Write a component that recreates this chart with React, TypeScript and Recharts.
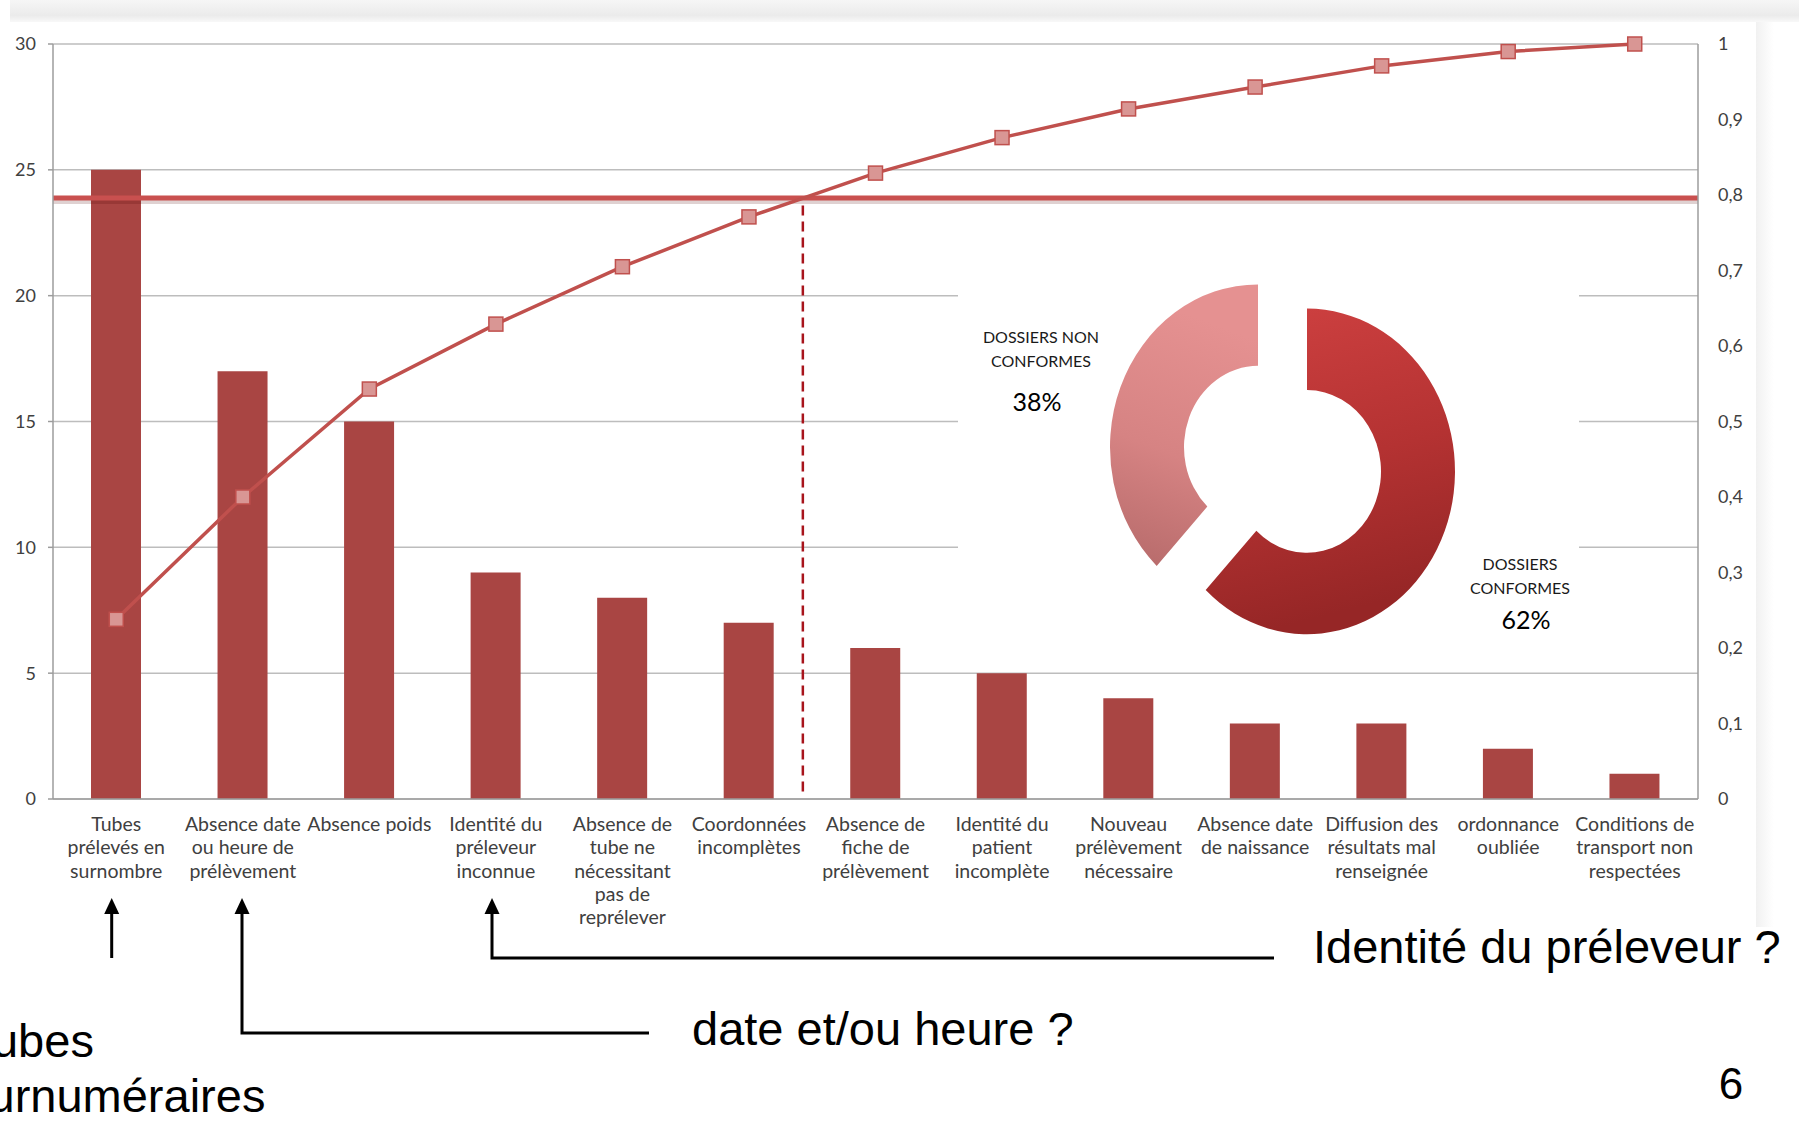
import React from 'react';
import {
  ComposedChart,
  Bar,
  Line,
  XAxis,
  YAxis,
  CartesianGrid,
  ReferenceLine,
  PieChart,
  Pie,
  Cell,
} from 'recharts';

// Pareto of non-conformities (labels are multi-line, split on \n)
const CATEGORIES = [
  'Tubes\nprélevés en\nsurnombre',
  'Absence date\nou heure de\nprélèvement',
  'Absence poids',
  'Identité du\npréleveur\ninconnue',
  'Absence de\ntube ne\nnécessitant\npas de\nreprélever',
  'Coordonnées\nincomplètes',
  'Absence de\nfiche de\nprélèvement',
  'Identité du\npatient\nincomplète',
  'Nouveau\nprélèvement\nnécessaire',
  'Absence date\nde naissance',
  'Diffusion des\nrésultats mal\nrenseignée',
  'ordonnance\noubliée',
  'Conditions de\ntransport non\nrespectées',
];
const COUNTS = [25, 17, 15, 9, 8, 7, 6, 5, 4, 3, 3, 2, 1];
const CUMULATIVE = [0.238, 0.4, 0.543, 0.629, 0.705, 0.771, 0.829, 0.876, 0.914, 0.943, 0.971, 0.99, 1];

const LEFT_TICKS = [0, 5, 10, 15, 20, 25, 30];
const RIGHT_TICKS = [0, 0.1, 0.2, 0.3, 0.4, 0.5, 0.6, 0.7, 0.8, 0.9, 1];

const THRESHOLD = 0.796;
const CUT_POSITION = 5.47; // where the cumulative curve crosses the threshold

const DONUT_NAMES = ['DOSSIERS\nCONFORMES', 'DOSSIERS NON\nCONFORMES'];
const DONUT_VALUES = [62, 38];

const ANNOTATIONS = ['Identité du préleveur ?', 'date et/ou heure ?', 'Tubes\nsurnuméraires'];
const PAGE_NUMBER = '6';

const BAR_COLOR = '#a94543';
const LINE_COLOR = '#c0504d';
const AXIS_COLOR = '#9c9c9c';
const LABEL_FONT = 'Lato, "Open Sans", sans-serif';
const SLIDE_FONT = '"Liberation Sans", Arial, sans-serif';

const chartData = CATEGORIES.map((name, i) => ({
  name,
  count: COUNTS[i],
  cumul: CUMULATIVE[i],
}));

const donutData = DONUT_NAMES.map((name, i) => ({ name, value: DONUT_VALUES[i] }));

function CategoryTick({ x, y, payload }: any) {
  const lines = String(payload.value).split('\n');
  return (
    <g transform={`translate(${x},${y})`}>
      {lines.map((line, i) => (
        <text
          key={i}
          x={0}
          y={32 + i * 23.3}
          textAnchor="middle"
          fill="#404040"
          fontSize={19.5}
          fontFamily={LABEL_FONT}
        >
          {line}
        </text>
      ))}
    </g>
  );
}

function SquareDot(props: any) {
  const { cx, cy, index } = props;
  if (cx == null || cy == null) return null;
  return (
    <rect
      key={`dot-${index}`}
      x={cx - 7}
      y={cy - 7}
      width={14}
      height={14}
      fill="#d99694"
      stroke={LINE_COLOR}
      strokeWidth={1.5}
    />
  );
}

function Arrow({ x, yTip, yEnd, xEnd }: { x: number; yTip: number; yEnd: number; xEnd?: number }) {
  const pts =
    xEnd != null ? `${x},${yTip + 12} ${x},${yEnd} ${xEnd},${yEnd}` : `${x},${yTip + 12} ${x},${yEnd}`;
  return (
    <g>
      <polyline points={pts} fill="none" stroke="#000" strokeWidth={3} />
      <polygon points={`${x},${yTip} ${x - 7.5},${yTip + 16} ${x + 7.5},${yTip + 16}`} fill="#000" />
    </g>
  );
}

export default function App() {
  const [conf, nonConf] = donutData;
  const tubes = ANNOTATIONS[2].split('\n');

  return (
    <div
      style={{
        position: 'absolute',
        left: 0,
        top: 0,
        width: 1799,
        height: 1123,
        overflow: 'hidden',
        background: '#fff',
      }}
    >
      {/* frame shadow of the pasted picture */}
      <div
        style={{
          position: 'absolute',
          left: 10,
          top: 0,
          width: 1789,
          height: 22,
          background: 'linear-gradient(to bottom, #f6f6f6, #ebebeb 70%, #f8f8f8)',
        }}
      />
      <div
        style={{
          position: 'absolute',
          left: 1756,
          top: 22,
          width: 18,
          height: 905,
          background: 'linear-gradient(to right, #f1f1f1, #fbfbfb 70%, #ffffff)',
        }}
      />

      <div style={{ position: 'absolute', left: 0, top: 0 }}>
        <ComposedChart
          width={1799}
          height={1123}
          data={chartData}
          margin={{ top: 44, right: 41, bottom: 194, left: 13 }}
        >
          <CartesianGrid
            xAxisId="cat"
            yAxisId="left"
            vertical={false}
            stroke="#bdbdbd"
            strokeWidth={1.5}
          />
          <XAxis
            xAxisId="cat"
            dataKey="name"
            interval={0}
            tickLine={false}
            tickSize={0}
            tickMargin={0}
            height={130}
            axisLine={{ stroke: AXIS_COLOR, strokeWidth: 1.5 }}
            tick={<CategoryTick />}
          />
          <XAxis
            xAxisId="num"
            type="number"
            domain={[-0.5, 12.5]}
            allowDataOverflow
            hide
          />
          <YAxis
            yAxisId="left"
            domain={[0, 30]}
            ticks={LEFT_TICKS}
            width={40}
            tickSize={5}
            tickMargin={12}
            axisLine={{ stroke: AXIS_COLOR, strokeWidth: 1.5 }}
            tickLine={{ stroke: AXIS_COLOR, strokeWidth: 1.5 }}
            tick={{ fill: '#404040', fontSize: 18, fontFamily: LABEL_FONT }}
          />
          <YAxis
            yAxisId="pct"
            orientation="right"
            domain={[0, 1]}
            ticks={RIGHT_TICKS}
            width={60}
            tickSize={6}
            tickMargin={14}
            tickLine={false}
            axisLine={{ stroke: AXIS_COLOR, strokeWidth: 1.5 }}
            tickFormatter={(v: number) => String(v).replace('.', ',')}
            tick={{ fill: '#404040', fontSize: 18, fontFamily: LABEL_FONT }}
          />
          <Bar
            xAxisId="cat"
            yAxisId="left"
            dataKey="count"
            fill={BAR_COLOR}
            barSize={50}
            isAnimationActive={false}
          />
          <ReferenceLine
            xAxisId="cat"
            yAxisId="pct"
            y={THRESHOLD - 0.004}
            stroke="rgba(80,0,0,0.18)"
            strokeWidth={6}
          />
          <ReferenceLine
            xAxisId="cat"
            yAxisId="pct"
            y={THRESHOLD}
            stroke="#c9504f"
            strokeWidth={5}
          />
          <ReferenceLine
            xAxisId="num"
            yAxisId="pct"
            segment={[
              { x: CUT_POSITION, y: 0.786 },
              { x: CUT_POSITION, y: 0.007 },
            ]}
            stroke="#a8141c"
            strokeWidth={2.5}
            strokeDasharray="10 6"
          />
          <Line
            xAxisId="cat"
            yAxisId="pct"
            type="linear"
            dataKey="cumul"
            stroke={LINE_COLOR}
            strokeWidth={3.5}
            dot={SquareDot}
            activeDot={false}
            isAnimationActive={false}
          />
        </ComposedChart>
      </div>

      {/* doughnut inset: conformes vs non conformes, slices pulled apart */}
      <div
        style={{
          position: 'absolute',
          left: 958,
          top: 225,
          width: 621,
          height: 390,
          background: '#fff',
          transform: 'scaleY(1.1)',
          transformOrigin: 'top left',
        }}
      >
        <PieChart width={621} height={390}>
          <defs>
            <linearGradient id="gradConf" x1="0" y1="0" x2="0.2" y2="1">
              <stop offset="0%" stopColor="#cf4141" />
              <stop offset="55%" stopColor="#b43232" />
              <stop offset="100%" stopColor="#962626" />
            </linearGradient>
            <linearGradient id="gradNon" x1="0" y1="0" x2="-0.2" y2="1">
              <stop offset="0%" stopColor="#e59191" />
              <stop offset="50%" stopColor="#d68383" />
              <stop offset="100%" stopColor="#b26767" />
            </linearGradient>
          </defs>
          <Pie
            data={donutData}
            dataKey="value"
            nameKey="name"
            cx={344}
            cy={219}
            innerRadius={74}
            outerRadius={148}
            startAngle={90}
            endAngle={-270}
            stroke="none"
            isAnimationActive={false}
          >
            <Cell fill="url(#gradConf)" />
            <Cell fill="transparent" />
          </Pie>
          <Pie
            data={donutData}
            dataKey="value"
            nameKey="name"
            cx={295}
            cy={197}
            innerRadius={74}
            outerRadius={148}
            startAngle={90}
            endAngle={-270}
            stroke="none"
            isAnimationActive={false}
          >
            <Cell fill="transparent" />
            <Cell fill="url(#gradNon)" />
          </Pie>
        </PieChart>
      </div>

      {/* slide annotations */}
      <svg
        width={1799}
        height={1123}
        style={{ position: 'absolute', left: 0, top: 0, pointerEvents: 'none' }}
      >
        {nonConf.name.split('\n').map((l, i) => (
          <text
            key={`n${i}`}
            x={1041}
            y={336 + i * 24}
            textAnchor="middle"
            dominantBaseline="central"
            fontSize={16}
            fontFamily={LABEL_FONT}
            fill="#1a1a1a"
          >
            {l}
          </text>
        ))}
        <text
          x={1037}
          y={401}
          textAnchor="middle"
          dominantBaseline="central"
          fontSize={25}
          fontFamily={LABEL_FONT}
          fill="#000"
        >
          {`${nonConf.value}%`}
        </text>
        {conf.name.split('\n').map((l, i) => (
          <text
            key={`c${i}`}
            x={1520}
            y={563 + i * 24}
            textAnchor="middle"
            dominantBaseline="central"
            fontSize={16}
            fontFamily={LABEL_FONT}
            fill="#1a1a1a"
          >
            {l}
          </text>
        ))}
        <text
          x={1526}
          y={619}
          textAnchor="middle"
          dominantBaseline="central"
          fontSize={25}
          fontFamily={LABEL_FONT}
          fill="#000"
        >
          {`${conf.value}%`}
        </text>

        <Arrow x={111.7} yTip={898} yEnd={958} />
        <Arrow x={242} yTip={898} yEnd={1033} xEnd={649} />
        <Arrow x={492} yTip={898} yEnd={958} xEnd={1274} />

        <text x={1313} y={963} fontSize={47} fontFamily={SLIDE_FONT} fill="#000">
          {ANNOTATIONS[0]}
        </text>
        <text x={692} y={1045} fontSize={47} fontFamily={SLIDE_FONT} fill="#000">
          {ANNOTATIONS[1]}
        </text>
        <text x={-35} y={1057} fontSize={47} fontFamily={SLIDE_FONT} fill="#000">
          {tubes[0]}
        </text>
        <text x={-35} y={1112} fontSize={47} fontFamily={SLIDE_FONT} fill="#000">
          {tubes[1]}
        </text>
        <text x={1731} y={1099} textAnchor="middle" fontSize={44} fontFamily={SLIDE_FONT} fill="#000">
          {PAGE_NUMBER}
        </text>
      </svg>
    </div>
  );
}
